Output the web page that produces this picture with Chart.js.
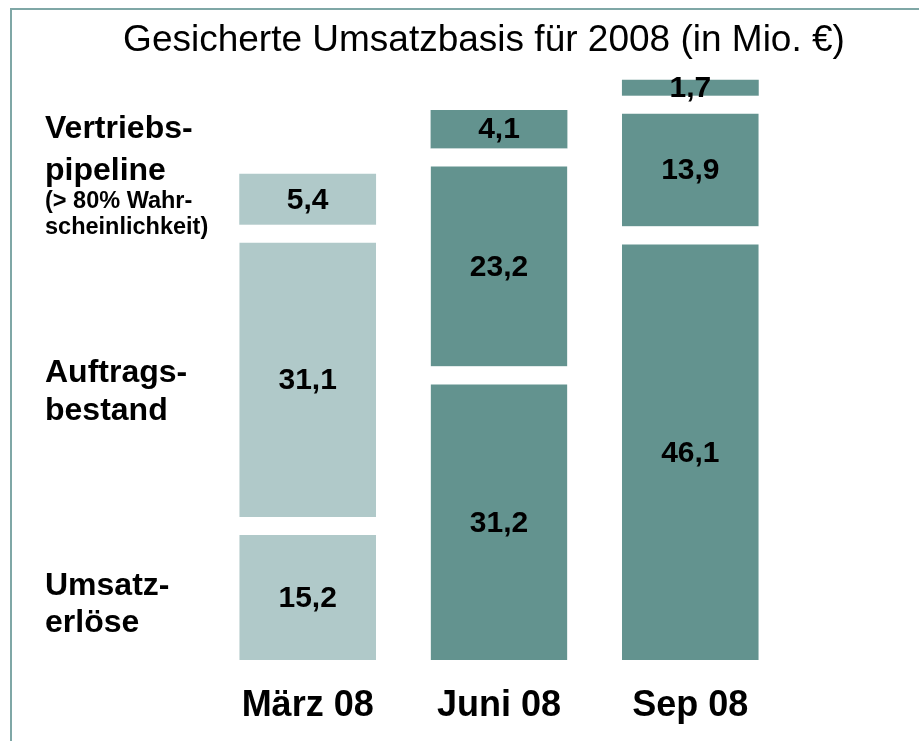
<!DOCTYPE html>
<html>
<head>
<meta charset="utf-8">
<script src="https://cdn.jsdelivr.net/npm/chart.js@4"></script>
<style>
  body { margin: 0; background: #fff; }
  #umsatzChart { display: block; }
</style>
</head>
<body>
<canvas id="umsatzChart" width="919" height="741"></canvas>
<script>
// Werte (in Mio. EUR)
var categories = ['März 08', 'Juni 08', 'Sep 08'];
var umsatzerloese = [15.2, 31.2, 46.1];
var auftragsbestand = [31.1, 23.2, 13.9];
var vertriebspipeline = [5.4, 4.1, 1.7];
var barColors = ['#b0c9c9', '#63938f', '#63938f'];

var fontFamily = "'Liberation Sans', Arial, Helvetica, sans-serif";

function formatDe(v) {
    return v.toFixed(1).replace('.', ',');
}

// Rahmen + weisser Hintergrund
var frame = {
    id: 'frame',
    beforeDraw: function(chart) {
        var ctx = chart.ctx;
        ctx.save();
        ctx.fillStyle = '#ffffff';
        ctx.fillRect(0, 0, chart.width, chart.height);
        ctx.strokeStyle = '#7fa7a6';
        ctx.lineWidth = 2;
        ctx.beginPath();
        ctx.moveTo(11, chart.height);
        ctx.lineTo(11, 9);
        ctx.lineTo(chart.width, 9);
        ctx.stroke();
        ctx.restore();
    }
};

// Titel
var titleText = {
    id: 'titleText',
    afterDraw: function(chart) {
        var ctx = chart.ctx;
        ctx.save();
        ctx.fillStyle = '#000';
        ctx.font = '37px ' + fontFamily;
        ctx.textAlign = 'center';
        ctx.textBaseline = 'alphabetic';
        ctx.fillText('Gesicherte Umsatzbasis für 2008 (in Mio. €)', 484, 51);
        ctx.restore();
    }
};

// Beschriftung links
var sideText = {
    id: 'sideText',
    afterDraw: function(chart) {
        var ctx = chart.ctx;
        var big = 'bold 32px ' + fontFamily;
        var small = 'bold 23.5px ' + fontFamily;
        var lines = [
            ['Vertriebs-', 138, big],
            ['pipeline', 180, big],
            ['(> 80% Wahr-', 208, small],
            ['scheinlichkeit)', 234, small],
            ['Auftrags-', 382, big],
            ['bestand', 420, big],
            ['Umsatz-', 595, big],
            ['erlöse', 632, big]
        ];
        ctx.save();
        ctx.fillStyle = '#000';
        ctx.textAlign = 'left';
        ctx.textBaseline = 'alphabetic';
        lines.forEach(function(l) {
            ctx.font = l[2];
            ctx.fillText(l[0], 45, l[1]);
        });
        ctx.restore();
    }
};

// Werte in den Balken
var valueLabels = {
    id: 'valueLabels',
    afterDatasetsDraw: function(chart) {
        var ctx = chart.ctx;
        ctx.save();
        ctx.fillStyle = '#000';
        ctx.font = 'bold 30px ' + fontFamily;
        ctx.textAlign = 'center';
        ctx.textBaseline = 'middle';
        chart.data.datasets.forEach(function(ds, i) {
            var meta = chart.getDatasetMeta(i);
            var gap = ds.borderWidth.top || 0;
            meta.data.forEach(function(bar, j) {
                var yMid = (bar.y + gap + bar.base) / 2;
                ctx.fillText(formatDe(ds.data[j]), bar.x, yMid + 1);
            });
        });
        ctx.restore();
    }
};

var ctx = document.getElementById('umsatzChart').getContext('2d');

var data = {
    labels: categories,
    datasets: [{
        label: 'Umsatzerlöse',
        data: umsatzerloese,
        backgroundColor: barColors,
        borderColor: '#ffffff',
        borderWidth: { top: 18, bottom: 0, left: 0, right: 0 },
        borderSkipped: false
    }, {
        label: 'Auftragsbestand',
        data: auftragsbestand,
        backgroundColor: barColors,
        borderColor: '#ffffff',
        borderWidth: { top: 18, bottom: 0, left: 0, right: 0 },
        borderSkipped: false
    }, {
        label: 'Vertriebspipeline',
        data: vertriebspipeline,
        backgroundColor: barColors,
        borderColor: '#ffffff',
        borderWidth: { top: 0, bottom: 0, left: 0, right: 0 },
        borderSkipped: false
    }]
};

var options = {
    responsive: false,
    animation: false,
    barPercentage: 0.715,
    categoryPercentage: 1,
    layout: {
        padding: { top: 77, left: 212, right: 133, bottom: 0 }
    },
    plugins: {
        legend: { display: false },
        title: { display: false },
        tooltip: { enabled: false }
    },
    scales: {
        x: {
            stacked: true,
            grid: { display: false },
            border: { display: false },
            ticks: {
                color: '#000',
                padding: 16,
                font: { family: fontFamily, size: 36, weight: 'bold' }
            },
            afterFit: function(scale) {
                scale.height = 81;
            }
        },
        y: {
            stacked: true,
            display: false,
            min: 0,
            max: 62
        }
    }
};

var umsatzChart = new Chart(ctx, {
    type: 'bar',
    data: data,
    options: options,
    plugins: [frame, titleText, sideText, valueLabels]
});
</script>
</body>
</html>
